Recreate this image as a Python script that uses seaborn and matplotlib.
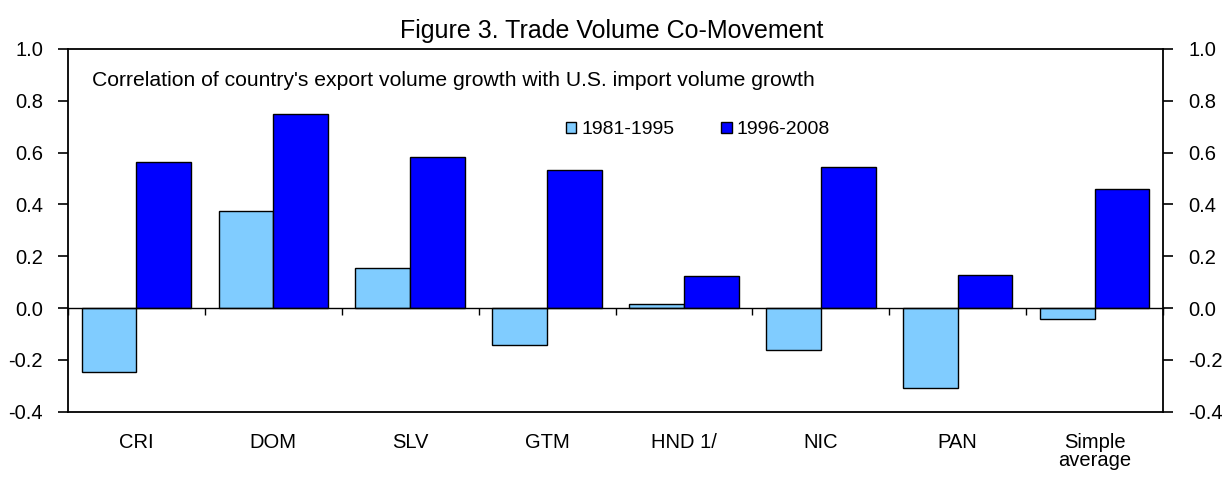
import matplotlib
matplotlib.use("Agg")
import matplotlib.pyplot as plt
import seaborn as sns
import pandas as pd
import numpy as np

categories = ["CRI", "DOM", "SLV", "GTM", "HND 1/", "NIC", "PAN", "Simple\naverage"]
series_names = ["1981-1995", "1996-2008"]
vals_1981_1995 = [-0.245, 0.375, 0.153, -0.142, 0.014, -0.161, -0.308, -0.044]
vals_1996_2008 = [0.564, 0.748, 0.583, 0.533, 0.122, 0.546, 0.129, 0.459]
ytick_vals = [-0.4, -0.2, 0.0, 0.2, 0.4, 0.6, 0.8, 1.0]
title = "Figure 3. Trade Volume Co-Movement"
note = "Correlation of country's export volume growth with U.S. import volume growth"

df = pd.DataFrame({
    "country": categories * 2,
    "period": [series_names[0]] * len(categories) + [series_names[1]] * len(categories),
    "value": vals_1981_1995 + vals_1996_2008,
})

sns.set_style("white")
plt.rcParams["font.family"] = ["Liberation Sans", "DejaVu Sans"]
plt.rcParams["text.color"] = "black"
plt.rcParams["axes.labelcolor"] = "black"
plt.rcParams["xtick.color"] = "black"
plt.rcParams["ytick.color"] = "black"

FS = 14.5

fig = plt.figure(figsize=(12.23, 4.8), dpi=100)
ax = fig.add_axes([68 / 1223, 1 - 411.7 / 480, (1163 - 68) / 1223, (411.7 - 49) / 480])

sns.barplot(data=df, x="country", y="value", hue="period", order=categories,
            hue_order=series_names, palette=["#80CCFF", "#0000FF"],
            edgecolor="black", linewidth=1.0, width=0.8, ax=ax, saturation=1)

ax.set_xlim(-0.5, len(categories) - 0.5)
ax.set_ylim(-0.4, 1.0)
ax.set_yticks(ytick_vals)
ax.set_yticklabels([f"{v:.1f}" for v in ytick_vals])
ax.tick_params(axis="y", left=True, right=True, labelleft=True, labelright=True,
               direction="out", length=7, width=1.2, labelsize=FS, colors="black", pad=11)
ax.set_ylabel("")
ax.set_xlabel("")

# category axis crossing at zero
ax.spines["bottom"].set_position(("data", 0))
ax.spines["bottom"].set_linewidth(1)
ax.set_xticks(range(len(categories)))
ax.set_xticks(np.arange(-0.5, len(categories), 1.0), minor=True)
ax.tick_params(axis="x", which="major", length=0, labelbottom=False)
ax.tick_params(axis="x", which="minor", bottom=True, direction="out", length=5, width=1, color="black")
for s in ["top", "left", "right"]:
    ax.spines[s].set_visible(True)
    ax.spines[s].set_color("black")
    ax.spines[s].set_linewidth(1.3)
ax.spines["bottom"].set_color("black")

sec = ax.secondary_xaxis(0.0)
sec.set_xticks(range(len(categories)))
sec.set_xticklabels(categories, fontsize=FS, linespacing=0.95, color="black")
sec.tick_params(axis="x", length=0, pad=15, colors="black")
sec.spines["bottom"].set_color("black")
sec.spines["bottom"].set_linewidth(1.3)

leg = ax.legend(loc="center", bbox_to_anchor=(0.575, 0.777), ncol=2, frameon=False,
                fontsize=14, handlelength=0.55, handleheight=0.55, handletextpad=0.25,
                columnspacing=2.4, labelcolor="black")
for h in leg.legend_handles:
    h.set_edgecolor("black")
    h.set_linewidth(1.0)

ax.text(0.022, 0.914, note, transform=ax.transAxes, fontsize=15.2, va="center", ha="left",
        color="black")
fig.text(0.5, 1 - 31 / 480, title, fontsize=18, ha="center", va="center", color="black")

fig.savefig("out.png", dpi=100, facecolor="white")
